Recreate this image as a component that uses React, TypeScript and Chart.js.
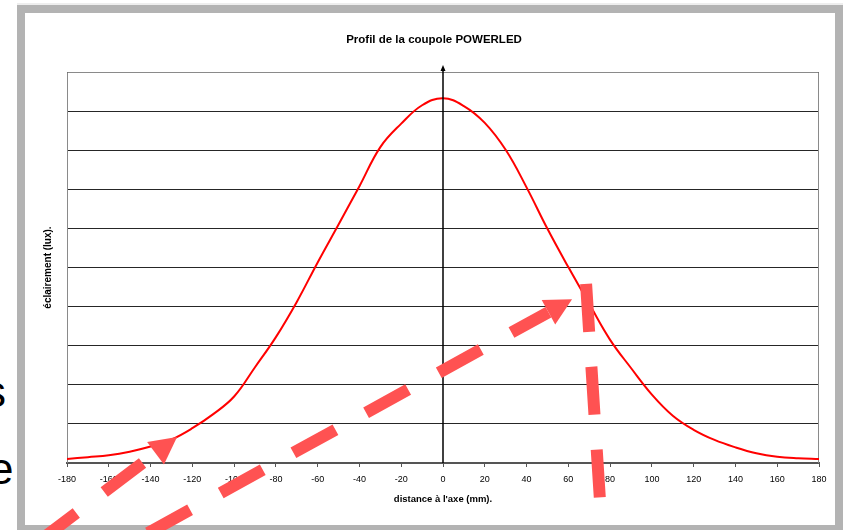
import React, { useEffect, useRef } from "react";
import { Chart, registerables } from "chart.js";

Chart.register(...registerables);

const TITLE = "Profil de la coupole POWERLED";
const X_TITLE = "distance à l'axe (mm).";
const Y_TITLE = "éclairement (lux).";

const distances = [
  -180, -170, -160, -150, -140, -130, -120, -110, -100, -90, -80, -70, -60, -50, -40, -30, -20, -10,
  0, 10, 20, 30, 40, 50, 60, 70, 80, 90, 100, 110, 120, 130, 140, 150, 160, 170, 180,
];
const eclairement = [
  0.1, 0.15, 0.2, 0.29, 0.42, 0.6, 0.89, 1.25, 1.7, 2.45, 3.22, 4.12, 5.13, 6.1, 7.08, 8.08, 8.68, 9.15,
  9.33, 9.13, 8.7, 8.01, 7.05, 5.99, 5.01, 4.07, 3.15, 2.43, 1.75, 1.21, 0.85, 0.59, 0.4, 0.25, 0.16, 0.12, 0.1,
];

const X_MIN = -180;
const X_MAX = 180;
const X_STEP = 20;
const Y_MIN = 0;
const Y_MAX = 10;
const Y_STEP = 1;

// Hand-drawn red dashed arrows overlaid on the picture (in data units)
const arrowFromX = [-193.9, -141.2, 68.5];
const arrowFromY = [-2.02, -1.79, 4.58];
const arrowToX = [-127.3, 61.8, 75.2];
const arrowToY = [0.665, 4.19, -1.0];
const arrowHasHead = [true, true, false];

const FONT = '"Liberation Sans", Arial, sans-serif';

const decorPlugin = {
  id: "decor",
  beforeDatasetsDraw(chart: any) {
    const { ctx, chartArea: a } = chart;
    ctx.save();
    ctx.strokeStyle = "#8a8a8a";
    ctx.lineWidth = 1;
    const l = Math.round(a.left) + 0.5;
    const r = Math.round(a.right) - 0.5;
    const t = Math.round(a.top) + 0.5;
    const b = Math.round(a.bottom);
    ctx.beginPath();
    ctx.moveTo(l, b);
    ctx.lineTo(l, t);
    ctx.lineTo(r, t);
    ctx.lineTo(r, b);
    ctx.stroke();
    ctx.restore();
  },
  afterDatasetsDraw(chart: any) {
    const { ctx, chartArea: a, scales } = chart;
    const x0 = Math.round(scales.x.getPixelForValue(0));
    ctx.save();
    ctx.strokeStyle = "#000";
    ctx.fillStyle = "#000";
    ctx.lineWidth = 1.5;
    ctx.beginPath();
    ctx.moveTo(x0, a.bottom);
    ctx.lineTo(x0, a.top - 2);
    ctx.stroke();
    ctx.beginPath();
    ctx.moveTo(x0, a.top - 7);
    ctx.lineTo(x0 - 2.5, a.top - 1);
    ctx.lineTo(x0 + 2.5, a.top - 1);
    ctx.closePath();
    ctx.fill();
    ctx.restore();
  },
  afterDraw(chart: any) {
    const { ctx, scales } = chart;
    ctx.save();
    // title
    ctx.fillStyle = "#000";
    ctx.font = `bold 11.5px ${FONT}`;
    ctx.textAlign = "center";
    ctx.textBaseline = "middle";
    ctx.fillText(TITLE, 434, 40);

    // red annotation arrows
    const col = "rgb(255,82,82)";
    ctx.strokeStyle = col;
    ctx.fillStyle = col;
    ctx.lineWidth = 12;
    ctx.lineCap = "butt";
    for (let i = 0; i < arrowFromX.length; i++) {
      const sx = scales.x.getPixelForValue(arrowFromX[i]);
      const sy = scales.y.getPixelForValue(arrowFromY[i]);
      const ex = scales.x.getPixelForValue(arrowToX[i]);
      const ey = scales.y.getPixelForValue(arrowToY[i]);
      const len = Math.hypot(ex - sx, ey - sy);
      const ux = (ex - sx) / len;
      const uy = (ey - sy) / len;
      const headLen = arrowHasHead[i] ? 27 : 0;
      const lx = ex - ux * headLen;
      const ly = ey - uy * headLen;
      ctx.setLineDash([48, 35]);
      ctx.beginPath();
      ctx.moveTo(sx, sy);
      ctx.lineTo(lx, ly);
      ctx.stroke();
      ctx.setLineDash([]);
      if (arrowHasHead[i]) {
        const hw = 14;
        ctx.beginPath();
        ctx.moveTo(ex, ey);
        ctx.lineTo(lx - uy * hw, ly + ux * hw);
        ctx.lineTo(lx + uy * hw, ly - ux * hw);
        ctx.closePath();
        ctx.fill();
      }
    }
    ctx.restore();
  },
};

export default function App() {
  const canvasRef = useRef<HTMLCanvasElement | null>(null);

  useEffect(() => {
    const canvas = canvasRef.current;
    if (!canvas) return;
    const points = distances.map((d, i) => ({ x: d, y: eclairement[i] }));
    const chart = new Chart(canvas, {
      type: "line",
      data: {
        datasets: [
          {
            data: points,
            borderColor: "#ff0000",
            borderWidth: 2,
            pointRadius: 0,
            tension: 0.4,
            fill: false,
          },
        ],
      },
      options: {
        responsive: false,
        animation: false,
        devicePixelRatio: 1,
        layout: { padding: { top: 72, left: 0, right: 24, bottom: 0 } },
        plugins: {
          legend: { display: false },
          title: { display: false },
          tooltip: { enabled: false },
        },
        scales: {
          x: {
            type: "linear",
            position: "bottom",
            min: X_MIN,
            max: X_MAX,
            afterFit: (s: any) => {
              s.height = 67;
            },
            ticks: {
              stepSize: X_STEP,
              color: "#000",
              font: { family: FONT, size: 9 },
              padding: 7,
              maxRotation: 0,
              autoSkip: false,
            },
            grid: {
              display: true,
              drawOnChartArea: false,
              drawTicks: true,
              tickLength: 4,
              color: "#555",
              tickColor: "#555",
            },
            border: { display: true, color: "#555", width: 2 },
            title: {
              display: true,
              text: X_TITLE,
              color: "#000",
              font: { family: FONT, size: 9.5, weight: "bold" },
              padding: { top: 0, bottom: 25 },
            },
          },
          y: {
            type: "linear",
            min: Y_MIN,
            max: Y_MAX,
            afterFit: (s: any) => {
              s.width = 67;
            },
            ticks: { display: false, stepSize: Y_STEP },
            grid: { color: "#262626", lineWidth: 1, drawTicks: false },
            border: { display: false },
            title: {
              display: true,
              text: Y_TITLE,
              color: "#000",
              font: { family: FONT, size: 10, weight: "bold" },
              padding: { top: 42, bottom: 0 },
            },
          },
        },
      },
      plugins: [decorPlugin],
    });
    return () => chart.destroy();
  }, []);

  return (
    <div
      style={{
        position: "absolute",
        left: 0,
        top: 0,
        width: 843,
        height: 530,
        overflow: "hidden",
        background: "#fff",
      }}
    >
      <div
        style={{
          position: "absolute",
          left: 17,
          top: 3,
          width: 826,
          height: 2,
          background: "#eeeeee",
        }}
      />
      <div
        style={{
          position: "absolute",
          left: 17,
          top: 5,
          width: 826,
          height: 528,
          boxSizing: "border-box",
          border: "8px solid #b3b3b3",
          background: "#fff",
        }}
      />
      <div
        style={{
          position: "absolute",
          left: -16,
          top: 370,
          fontFamily: FONT,
          fontSize: 44,
          lineHeight: "44px",
          color: "#000",
        }}
      >
        s
      </div>
      <div
        style={{
          position: "absolute",
          left: -11,
          top: 447,
          fontFamily: FONT,
          fontSize: 44,
          lineHeight: "44px",
          color: "#000",
        }}
      >
        e
      </div>
      <canvas
        ref={canvasRef}
        width={843}
        height={530}
        style={{ position: "absolute", left: 0, top: 0, width: 843, height: 530 }}
      />
    </div>
  );
}
